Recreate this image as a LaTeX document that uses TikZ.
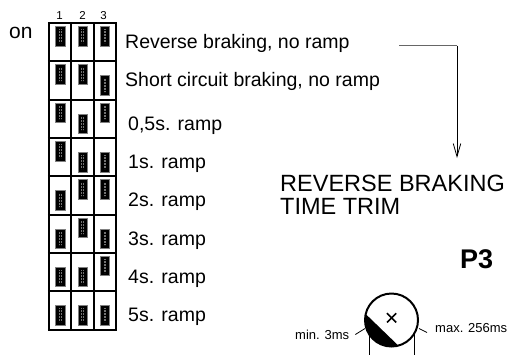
\documentclass[tikz,border=0pt]{standalone}
\usepackage{fontspec}
\setmainfont{Liberation Sans}
\usetikzlibrary{arrows.meta}
\tikzset{
  gridline/.style={line width=2.1pt},
  slider/.style={fill=black, draw=black!50, line width=0.4pt, minimum width=9.5pt, minimum height=19.5pt, inner sep=0pt,
    path picture={\foreach \dx in {-0.9,0.9}{\draw[black!55, line width=0.7pt, dash pattern=on 0.7pt off 0.8pt]
      ([xshift=\dx pt, yshift=-3pt]path picture bounding box.north) -- ([xshift=\dx pt, yshift=3pt]path picture bounding box.south);}}},
  lbl/.style={anchor=base west, inner sep=0pt, font=\fontsize{19.5}{20}\selectfont},
  colnum/.style={anchor=base, inner sep=0pt, font=\fontsize{11.5}{11.5}\selectfont},
  title/.style={anchor=base west, inner sep=0pt, font=\fontsize{23.5}{22.3}\selectfont},
  small/.style={anchor=base west, inner sep=0pt, font=\fontsize{13}{13}\selectfont},
  dial/.style={line width=2pt},
  thin/.style={line width=0.8pt},
}
\begin{document}
\begin{tikzpicture}[x=1pt, y=1pt]
\useasboundingbox[fill=white] (0,0) rectangle (510,-354);
% grid
\foreach \i in {0,...,3} \draw[gridline] ({48.8+22.47*\i},-23) -- ({48.8+22.47*\i},-329.6);
\foreach \j in {0,...,8} \draw[gridline] (47.8,{-23-38.32*\j}) -- (117.2,{-23-38.32*\j});
% sliders
\foreach \r in {0,...,7}{
  \foreach \c in {0,1,2}{
    \pgfmathtruncatemacro\v{mod(floor((7-\r)/(2^(2-\c))),2)}
    \pgfmathsetmacro\yy{\v==1 ? -23-38.32*\r-13 : -23-38.32*\r-24}
    \node[slider] (s\r\c) at ({48.8+22.47*\c+11.2},\yy) {};
  }
}
% column numbers and on
\node[colnum] (n1) at (59.5,-19.5) {1};
\node[colnum] (n2) at (82.5,-19.5) {2};
\node[colnum] (n3) at (103.5,-19.5) {3};
\node[anchor=base west, inner sep=0pt, font=\fontsize{21}{21}\selectfont] (on) at (9,-38.5) {on};
% labels
\node[lbl] (l1) at (125,-48.3) {Reverse braking, no ramp};
\node[lbl] (l2) at (125,-86.7) {Short circuit braking, no ramp};
\node[lbl] (l3) at (128,-130) {0,5s. ramp};
\node[lbl] (l4) at (128,-168.3) {1s. ramp};
\node[lbl] (l5) at (128,-206.6) {2s. ramp};
\node[lbl] (l6) at (128,-245) {3s. ramp};
\node[lbl] (l7) at (128,-283.3) {4s. ramp};
\node[lbl] (l8) at (128,-321.6) {5s. ramp};
% title
\node[title] (tt1) at (280,-191.7) {REVERSE BRAKING};
\node[title] (tt2) at (280,-214) {TIME TRIM};
\node[anchor=base west, inner sep=0pt, font=\fontsize{27}{27}\selectfont\bfseries] (p3) at (460,-268) {P3};
% arrow
\coordinate (hs) at (399,-45.7);
\coordinate (bend) at (457,-45.7);
\coordinate (tip) at (457,-158);
\draw[black!60, line width=1pt] (hs) -- (bend);
\draw[line width=0.8pt, -{Straight Barb[length=13pt, width=7.5pt]}] (bend) -- (tip);
% dial
\coordinate (dc) at (391.5,-320);
\fill[black] (dc) ++(167:26.5) arc[start angle=167, end angle=285, radius=26.5] -- cycle;
\draw[dial] (dc) circle[radius=26.5];
\draw[line width=1.6pt] (387,-313.2) -- (396.2,-322.4) (387,-322.4) -- (396.2,-313.2);
\draw[thin] (dc) ++(211.9:26.5) -- ++(0,-21);
\draw[thin] (dc) ++(328.1:26.5) -- ++(0,-21);
\node[small] (mn) at (295,-339.5) {min. 3ms};
\node[small] (mx) at (435,-332.3) {max. 256ms};
\draw[thin] (mn.base east) ++(6,5) coordinate (t1a) -- (365,-328.5) coordinate (t1b);
\draw[thin] (419,-328.5) coordinate (t2a) -- (427,-332.5) coordinate (t2b);
\end{tikzpicture}
\end{document}
